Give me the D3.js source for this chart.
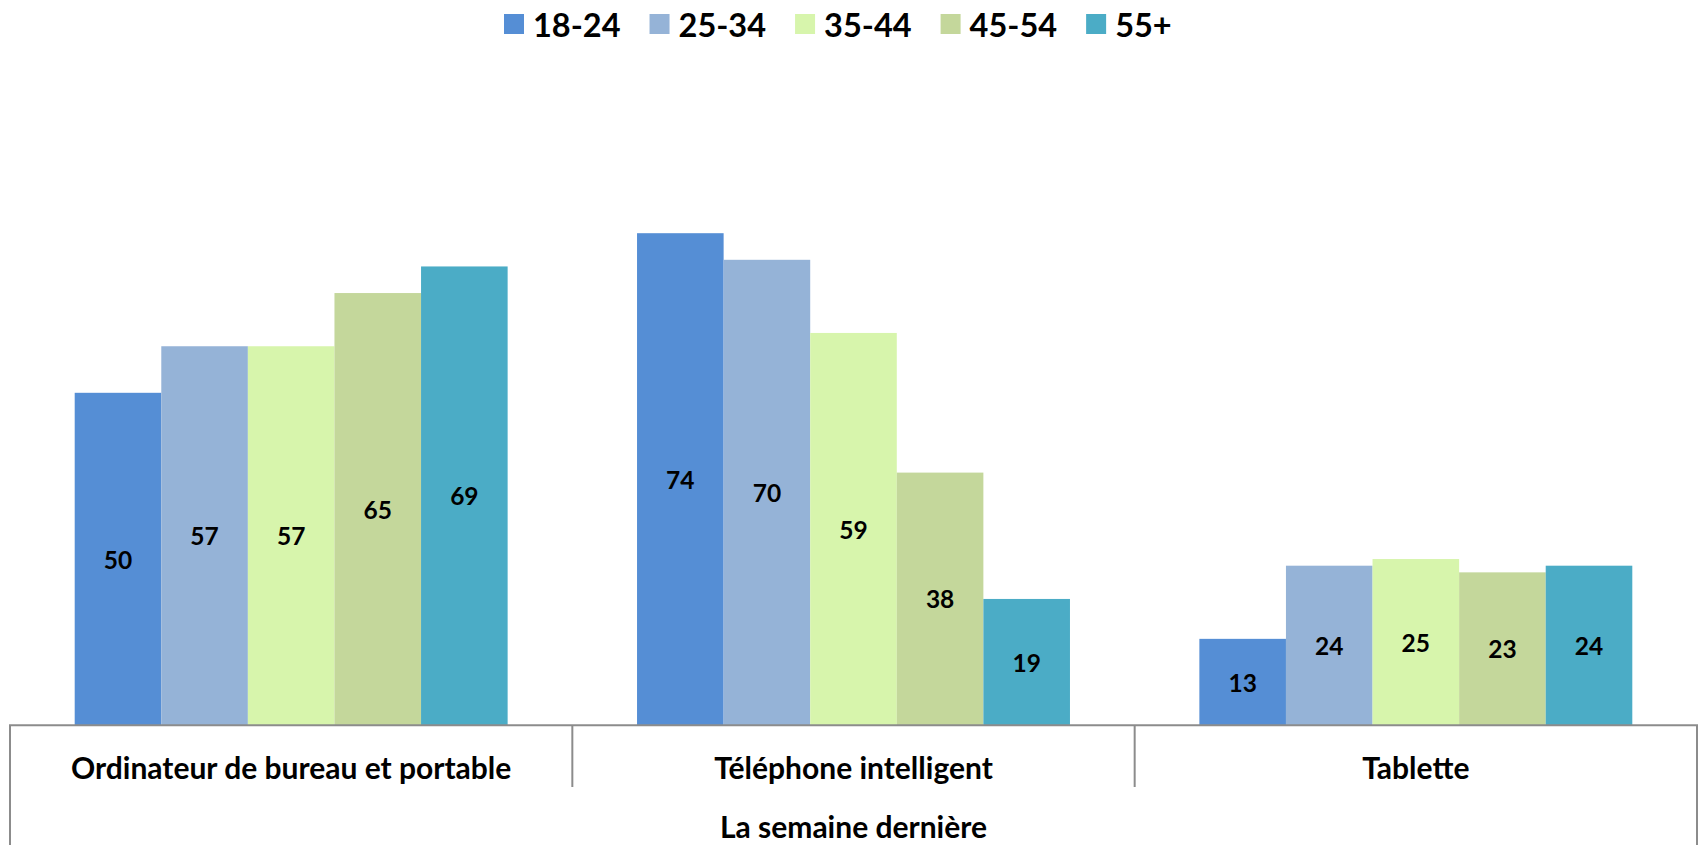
<!DOCTYPE html>
<html>
<head>
<meta charset="utf-8">
<script src="https://cdn.jsdelivr.net/npm/d3@7"></script>
<style>
  html, body { margin: 0; padding: 0; background: #fff; }
  svg { display: block; }
  text { font-family: Lato, "Open Sans", sans-serif; font-weight: 700; fill: #000; }
</style>
</head>
<body>
<svg id="chart" width="1701" height="845"></svg>
<script>
// Device usage last week, by age group (%)
const categories = ["Ordinateur de bureau et portable", "Téléphone intelligent", "Tablette"];
const groupLabel = "La semaine dernière";
const ageGroups = ["18-24", "25-34", "35-44", "45-54", "55+"];
const colors = ["#558ED5", "#95B3D7", "#D7F5AC", "#C4D79B", "#4BACC6"];

const s18_24 = [50, 74, 13];
const s25_34 = [57, 70, 24];
const s35_44 = [57, 59, 25];
const s45_54 = [65, 38, 23];
const s55plus = [69, 19, 24];
const seriesValues = [s18_24, s25_34, s35_44, s45_54, s55plus];

const svg = d3.select("#chart");

const left = 10, right = 1697, baseline = 725.3;
const x0 = d3.scaleBand().domain(categories).range([left, right]).padding(0);
const groupPad = 64.7;
const x1 = d3.scaleBand().domain(ageGroups)
  .range([groupPad, x0.bandwidth() - groupPad]).padding(0);
const y = d3.scaleLinear().domain([0, 100]).range([baseline, 60.3]);
const color = d3.scaleOrdinal().domain(ageGroups).range(colors);

// Bars
const rows = [];
categories.forEach((c, ci) => {
  ageGroups.forEach((g, gi) => rows.push({ cat: c, group: g, value: seriesValues[gi][ci] }));
});

const bars = svg.append("g");
bars.selectAll("rect").data(rows).join("rect")
  .attr("x", d => x0(d.cat) + x1(d.group))
  .attr("y", d => y(d.value))
  .attr("width", x1.bandwidth())
  .attr("height", d => baseline - y(d.value))
  .attr("fill", d => color(d.group));

// Value labels centred inside each bar
bars.selectAll("text").data(rows).join("text")
  .attr("x", d => x0(d.cat) + x1(d.group) + x1.bandwidth() / 2)
  .attr("y", d => (y(d.value) + baseline) / 2)
  .attr("text-anchor", "middle")
  .attr("dominant-baseline", "central")
  .style("font-size", "24.5px")
  .text(d => d.value);

// Category axis frame
const axisColor = "#8C8C8C";
const frame = svg.append("g").attr("stroke", axisColor).attr("stroke-width", 2).attr("fill", "none");
frame.append("line").attr("x1", left - 1).attr("x2", right + 1).attr("y1", baseline).attr("y2", baseline);
frame.append("line").attr("x1", left).attr("x2", left).attr("y1", baseline).attr("y2", 845);
frame.append("line").attr("x1", right).attr("x2", right).attr("y1", baseline).attr("y2", 845);
frame.selectAll("line.div").data(categories.slice(1)).join("line")
  .attr("class", "div")
  .attr("x1", d => x0(d)).attr("x2", d => x0(d))
  .attr("y1", baseline).attr("y2", 787);

// Category labels
svg.append("g").selectAll("text").data(categories).join("text")
  .attr("x", d => x0(d) + x0.bandwidth() / 2)
  .attr("y", 767)
  .attr("text-anchor", "middle")
  .attr("dominant-baseline", "central")
  .style("font-size", "30px")
  .text(d => d);

// Outer group label
svg.append("text")
  .attr("x", (left + right) / 2)
  .attr("y", 826)
  .attr("text-anchor", "middle")
  .attr("dominant-baseline", "central")
  .style("font-size", "30px")
  .text(groupLabel);

// Legend
const legend = svg.append("g");
const sq = 20, gapText = 9, gapItem = 29;
let lx = 0;
ageGroups.forEach((g, i) => {
  const item = legend.append("g").attr("transform", `translate(${lx},0)`);
  item.append("rect").attr("x", 0).attr("y", 14).attr("width", sq).attr("height", sq).attr("fill", colors[i]);
  const t = item.append("text")
    .attr("x", sq + gapText).attr("y", 24)
    .attr("dominant-baseline", "central")
    .style("font-size", "32.5px")
    .text(g);
  lx += sq + gapText + t.node().getComputedTextLength() + gapItem;
});
legend.attr("transform", "translate(504,0)");
</script>
</body>
</html>
